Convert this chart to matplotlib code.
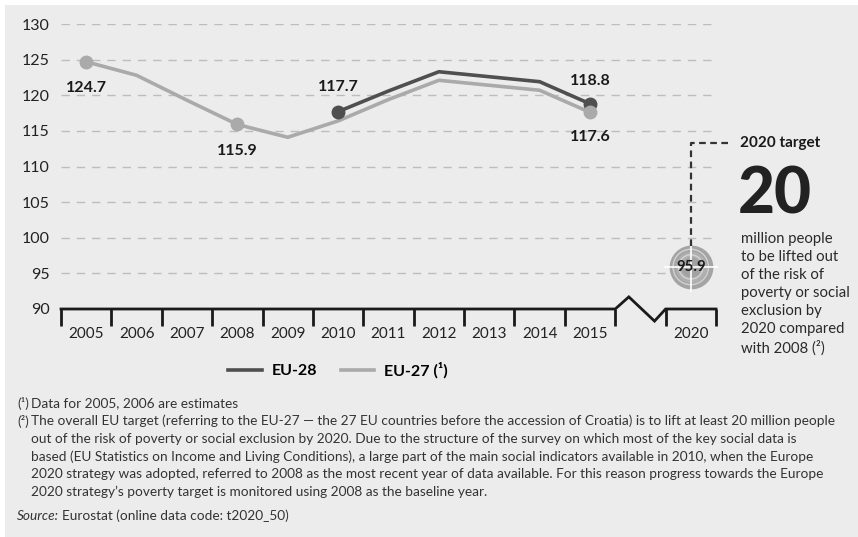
import matplotlib
matplotlib.use("Agg")
import matplotlib.pyplot as plt
from matplotlib.lines import Line2D
from matplotlib.patches import Rectangle

plt.rcParams['font.family'] = ['Lato', 'DejaVu Sans']

# People at risk of poverty or social exclusion (millions)
years = ['2005', '2006', '2007', '2008', '2009', '2010',
         '2011', '2012', '2013', '2014', '2015']
eu27 = [124.7, 122.8, 119.3, 115.9, 114.1, 116.4, 119.4, 122.1, 121.4, 120.7, 117.6]
eu28_years = ['2010', '2011', '2012', '2013', '2014', '2015']
eu28 = [117.7, 120.6, 123.3, 122.6, 121.9, 118.8]
target_year = '2020'
target_value = 95.9
target_reduction = '20'
y_ticks = [90, 95, 100, 105, 110, 115, 120, 125, 130]

W, H = 858, 537
fig = plt.figure(figsize=(W / 100, H / 100), dpi=100)
fig.patch.set_facecolor('white')
BG = '#ececec'
fig.patches.append(Rectangle((5 / W, 0), 1, 1 - 5 / H, transform=fig.transFigure,
                             facecolor=BG, edgecolor='none', zorder=-10))


def fx(px):
    return px / W


def fy(py):
    return 1 - py / H


ax = fig.add_axes([fx(61), fy(309), fx(716) - fx(61), fy(24) - fy(309)])
ax.set_facecolor('none')
for s in ax.spines.values():
    s.set_visible(False)

# category positions: 2005-2015, a gap for the axis break, then 2020
pos = {y: i for i, y in enumerate(years)}
pos[target_year] = len(years) + 1
ax.set_xlim(-0.5, len(years) + 1.5)
ax.set_ylim(90, 130)

# dashed horizontal grid
for v in y_ticks[1:]:
    ax.axhline(v, color='#bdbdbd', lw=1.0, dashes=(6, 5), zorder=0)

ax.set_yticks(y_ticks)
ax.set_yticklabels([str(v) for v in y_ticks], fontsize=11.5, color='#222222')
ax.tick_params(axis='y', length=0, pad=8)

xt = [pos[y] for y in years] + [pos[target_year]]
ax.set_xticks(xt)
ax.set_xticklabels(years + [target_year], fontsize=11, color='#222222')
ax.tick_params(axis='x', which='major', length=0, pad=13)
bounds = [i - 0.5 for i in range(len(years) + 1)] + [pos[target_year] - 0.5, pos[target_year] + 0.5]
ax.set_xticks(bounds, minor=True)
ax.tick_params(axis='x', which='minor', length=12, width=2, color='#1a1a1a', direction='out')

# baseline with a zigzag break between 2015 and 2020
b0 = len(years) - 0.5
b1 = pos[target_year] - 0.5
ax.plot([-0.5, b0, b0 + 0.27, b1 - 0.22, b1, pos[target_year] + 0.5],
        [90, 90, 91.7, 88.3, 90, 90], color='#1a1a1a', lw=2, clip_on=False,
        solid_joinstyle='miter', zorder=3)

C28 = '#4f4f4f'
C27 = '#aaaaaa'
l28, = ax.plot([pos[y] for y in eu28_years], eu28, color=C28, lw=2.6, zorder=4,
               solid_joinstyle='round', label='EU-28')
l27, = ax.plot([pos[y] for y in years], eu27, color=C27, lw=2.6, zorder=5,
               solid_joinstyle='round', label='EU-27 (¹)')

m28 = ['2010', '2015']
ax.plot([pos[y] for y in m28], [eu28[eu28_years.index(y)] for y in m28], 'o',
        color=C28, ms=9, zorder=6)
m27 = ['2005', '2008', '2015']
ax.plot([pos[y] for y in m27], [eu27[years.index(y)] for y in m27], 'o',
        color=C27, ms=9, zorder=7)

lab_kw = dict(textcoords='offset points', ha='center', va='center',
              fontsize=11.5, fontweight='bold', color='#1a1a1a', zorder=8)
for y in ['2005', '2008']:
    v = eu27[years.index(y)]
    ax.annotate(f'{v:.1f}', (pos[y], v), xytext=(0, -19), **lab_kw)
v = eu28[eu28_years.index('2010')]
ax.annotate(f'{v:.1f}', (pos['2010'], v), xytext=(0, 17.5), **lab_kw)
v = eu28[eu28_years.index('2015')]
ax.annotate(f'{v:.1f}', (pos['2015'], v), xytext=(0, 16.5), **lab_kw)
v = eu27[years.index('2015')]
ax.annotate(f'{v:.1f}', (pos['2015'], v), xytext=(0, -18), **lab_kw)

# 2020 target marker: concentric rings with a white crosshair
tx, ty = pos[target_year], target_value
ax.scatter([tx], [ty], s=30.5 ** 2, color='#a4a4a4', zorder=6, clip_on=False)
ax.scatter([tx], [ty], s=25.5 ** 2, facecolor='none', edgecolor='#d2d2d2', lw=1.0, zorder=7, clip_on=False)
ax.scatter([tx], [ty], s=21.5 ** 2, color='#b0b0b0', zorder=7, clip_on=False)
ax.scatter([tx], [ty], s=17.5 ** 2, facecolor='none', edgecolor='#d6d6d6', lw=0.9, zorder=8, clip_on=False)
ax.scatter([tx], [ty], s=13.5 ** 2, color='#a2a2a2', zorder=8, clip_on=False)
ax.plot([tx], [ty], marker='|', ms=36, mew=1.2, color='white', zorder=9, clip_on=False)
ax.plot([tx], [ty], marker='_', ms=39, mew=1.2, color='white', zorder=9, clip_on=False)
ax.annotate(f'{target_value:.1f}', (tx, ty), ha='center', va='center',
            fontsize=10.8, fontweight='bold', color='#1a1a1a', zorder=10)

# callout from the target marker to the side text
fig.canvas.draw()
cx, cy = ax.transData.transform((tx, ty))
top_y = H - 143
fig.add_artist(Line2D([cx, cx, 732], [cy + 21, top_y, top_y], color='#333333',
                      lw=1.6, dashes=(3, 2), transform=None, zorder=5))
fig.text(fx(740), fy(143), '2020 target', fontsize=11, fontweight='bold',
         color='#1a1a1a', va='center', ha='left')
fig.text(fx(738), fy(213), target_reduction, fontsize=46, fontweight='black',
         color='#222222', va='baseline', ha='left')
side = ['million people', 'to be lifted out', 'of the risk of', 'poverty or social',
        'exclusion by', '2020 compared', 'with 2008 (²)']
for i, t in enumerate(side):
    fig.text(fx(741), fy(238.5 + 18.2 * i), t, fontsize=10.7, color='#2a2a2a',
             va='center', ha='left')

# legend
fig.legend(handles=[l28, l27], loc='center', bbox_to_anchor=(fx(338), fy(370)),
           ncol=2, frameon=False, handlelength=2.1, handletextpad=0.6,
           columnspacing=1.5, prop={'weight': 'bold', 'size': 11.5})

# notes
note_c = '#333333'
nfs = 9.85
fig.text(fx(17), fy(403), '(¹)', fontsize=nfs, color=note_c, va='center')
fig.text(fx(31), fy(403), 'Data for 2005, 2006 are estimates', fontsize=nfs, color=note_c, va='center')
fig.text(fx(17), fy(421), '(²)', fontsize=nfs, color=note_c, va='center')
notes = [
    'The overall EU target (referring to the EU-27 \u2014 the 27 EU countries before the accession of Croatia) is to lift at least 20 million people',
    'out of the risk of poverty or social exclusion by 2020. Due to the structure of the survey on which most of the key social data is',
    'based (EU Statistics on Income and Living Conditions), a large part of the main social indicators available in 2010, when the Europe',
    '2020 strategy was adopted, referred to 2008 as the most recent year of data available. For this reason progress towards the Europe',
    '2020 strategy\u2019s poverty target is monitored using 2008 as the baseline year.',
]
for i, t in enumerate(notes):
    fig.text(fx(31), fy(421 + 17.7 * i), t, fontsize=nfs, color=note_c, va='center')
src = fig.text(fx(17), fy(516), 'Source:', fontsize=nfs, color=note_c, va='center', style='italic')
fig.canvas.draw()
bb = src.get_window_extent()
fig.text((bb.x1 + 3) / W, fy(516), 'Eurostat (online data code: t2020_50)', fontsize=nfs,
         color=note_c, va='center')

fig.savefig('out.png', dpi=100, facecolor=fig.get_facecolor())
